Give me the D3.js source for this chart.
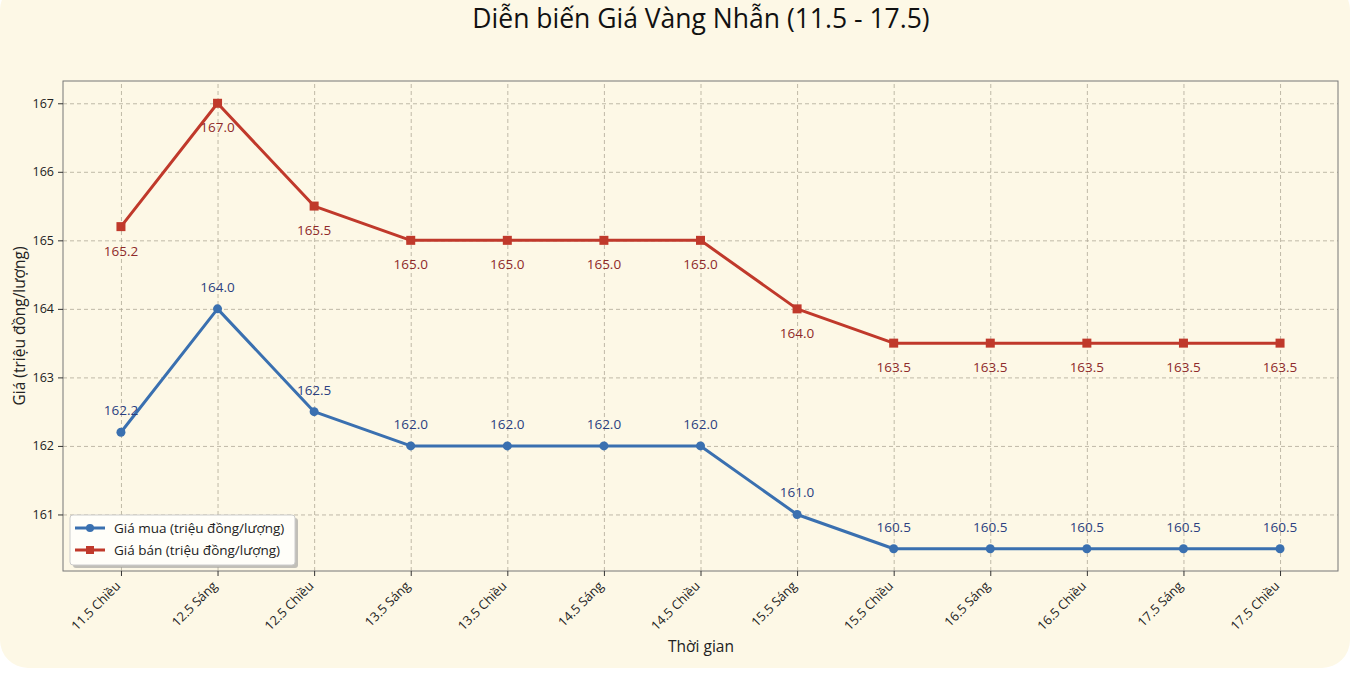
<!DOCTYPE html>
<html lang="vi">
<head>
<meta charset="utf-8">
<title>Giá Vàng Nhẫn</title>
<style>
  body { margin: 0; background: #ffffff; }
  .axis path, .axis line { stroke: #333; }
  .grid line { stroke: #b0aa98; stroke-dasharray: 4,3; stroke-width: 0.8; }
  .grid path { display: none; }
</style>
</head>
<body>
<script src="https://cdn.jsdelivr.net/npm/d3@7/dist/d3.min.js"></script>
<script>

var categories = ["11.5 Chiều", "12.5 Sáng", "12.5 Chiều", "13.5 Sáng", "13.5 Chiều", "14.5 Sáng",
  "14.5 Chiều", "15.5 Sáng", "15.5 Chiều", "16.5 Sáng", "16.5 Chiều", "17.5 Sáng", "17.5 Chiều"];
var buyPrices = [162.2, 164.0, 162.5, 162.0, 162.0, 162.0, 162.0, 161.0, 160.5, 160.5, 160.5, 160.5, 160.5];
var sellPrices = [165.2, 167.0, 165.5, 165.0, 165.0, 165.0, 165.0, 164.0, 163.5, 163.5, 163.5, 163.5, 163.5];
var yTicks = [161, 162, 163, 164, 165, 166, 167];
var seriesNames = ["Giá mua (triệu đồng/lượng)", "Giá bán (triệu đồng/lượng)"];

var w = 1354, h = 678;
var pLeft = 63, pRight = 1338, pTop = 81, pBottom = 571;
var font = "'Open Sans', 'Noto Sans', sans-serif";
var blue = "#3a70b0", red = "#c0392b";

var svg = d3.select("body").append("svg").attr("width", w).attr("height", h);

// card background
svg.append("rect").attr("x", 0).attr("y", -18).attr("width", 1350).attr("height", 686)
  .attr("rx", 28).attr("fill", "#fdf8e6");

// scales (matplotlib style 5% margins)
var ymin = d3.min(buyPrices), ymax = d3.max(sellPrices);
var pad = (ymax - ymin) * 0.05;
var y = d3.scaleLinear().domain([ymin - pad, ymax + pad]).range([pBottom, pTop]);
var x = d3.scalePoint().domain(categories).range([pLeft, pRight]).padding(0.6);

// grid
svg.append("g").attr("class", "grid").attr("transform", "translate(0," + pBottom + ")")
  .call(d3.axisBottom(x).tickSize(-(pBottom - pTop)).tickFormat(""));
svg.append("g").attr("class", "grid").attr("transform", "translate(" + pLeft + ",0)")
  .call(d3.axisLeft(y).tickValues(yTicks).tickSize(-(pRight - pLeft)).tickFormat(""));

// frame
svg.append("rect").attr("x", pLeft).attr("y", pTop).attr("width", pRight - pLeft).attr("height", pBottom - pTop)
  .attr("fill", "none").attr("stroke", "#777").attr("stroke-width", 1);

// axes
var xAxis = svg.append("g").attr("class", "axis").attr("transform", "translate(0," + pBottom + ")")
  .call(d3.axisBottom(x).tickSize(5));
xAxis.select(".domain").remove();
xAxis.selectAll("text").attr("font-family", font).attr("font-size", "12.8px").attr("fill", "#222")
  .attr("x", null).attr("y", null).attr("dy", "0.75em")
  .attr("text-anchor", "end").attr("transform", "translate(-7,9) rotate(-45)");

var yAxis = svg.append("g").attr("class", "axis").attr("transform", "translate(" + pLeft + ",0)")
  .call(d3.axisLeft(y).tickValues(yTicks).tickSize(5).tickPadding(4).tickFormat(d3.format("d")));
yAxis.select(".domain").remove();
yAxis.selectAll("text").attr("font-family", font).attr("font-size", "12.5px").attr("fill", "#222");

// titles
svg.append("text").attr("x", 701).attr("y", 28).attr("text-anchor", "middle")
  .attr("font-family", font).attr("font-size", "26.5px").attr("fill", "#111")
  .text("Diễn biến Giá Vàng Nhẫn (11.5 - 17.5)");
svg.append("text").attr("x", 701).attr("y", 652).attr("text-anchor", "middle")
  .attr("font-family", font).attr("font-size", "15.5px").attr("fill", "#222").text("Thời gian");
svg.append("text").attr("transform", "translate(25," + ((pTop + pBottom) / 2) + ") rotate(-90)")
  .attr("text-anchor", "middle").attr("font-family", font).attr("font-size", "15.5px").attr("fill", "#222")
  .text("Giá (triệu đồng/lượng)");

var line = d3.line().x(function(d, i) { return x(categories[i]); }).y(function(d) { return y(d); });

// buy series
svg.append("path").datum(buyPrices).attr("d", line).attr("fill", "none")
  .attr("stroke", blue).attr("stroke-width", 3).attr("stroke-linejoin", "round");
svg.selectAll(".buyPt").data(buyPrices).enter().append("circle")
  .attr("cx", function(d, i) { return x(categories[i]); }).attr("cy", function(d) { return y(d); })
  .attr("r", 4.5).attr("fill", blue);
svg.selectAll(".buyLbl").data(buyPrices).enter().append("text")
  .attr("x", function(d, i) { return x(categories[i]); }).attr("y", function(d) { return y(d) - 17; })
  .attr("text-anchor", "middle").attr("font-family", font).attr("font-size", "13.5px").attr("fill", "#2b3f80")
  .text(function(d) { return d.toFixed(1); });

// sell series
svg.append("path").datum(sellPrices).attr("d", line).attr("fill", "none")
  .attr("stroke", red).attr("stroke-width", 3).attr("stroke-linejoin", "round");
svg.selectAll(".sellPt").data(sellPrices).enter().append("rect")
  .attr("x", function(d, i) { return x(categories[i]) - 4.5; }).attr("y", function(d) { return y(d) - 4.5; })
  .attr("width", 9).attr("height", 9).attr("fill", red);
svg.selectAll(".sellLbl").data(sellPrices).enter().append("text")
  .attr("x", function(d, i) { return x(categories[i]); }).attr("y", function(d) { return y(d) + 29; })
  .attr("text-anchor", "middle").attr("font-family", font).attr("font-size", "13.5px").attr("fill", "#8e2a2a")
  .text(function(d) { return d.toFixed(1); });

// legend
var lg = svg.append("g").attr("transform", "translate(70,515)");
lg.append("rect").attr("x", 3).attr("y", 3).attr("width", 225).attr("height", 50).attr("rx", 3)
  .attr("fill", "#999").attr("opacity", 0.6);
lg.append("rect").attr("width", 225).attr("height", 50).attr("rx", 3)
  .attr("fill", "#fffef9").attr("stroke", "#ccc");
[blue, red].forEach(function(c, i) {
  var yy = 13 + i * 22;
  lg.append("line").attr("x1", 5).attr("x2", 35).attr("y1", yy).attr("y2", yy)
    .attr("stroke", c).attr("stroke-width", 3);
  if (i == 0) lg.append("circle").attr("cx", 20).attr("cy", yy).attr("r", 4).attr("fill", c);
  else lg.append("rect").attr("x", 16).attr("y", yy - 4).attr("width", 8).attr("height", 8).attr("fill", c);
  lg.append("text").attr("x", 44).attr("y", yy + 4.5).attr("font-family", font).attr("font-size", "13.5px")
    .attr("fill", "#222").text(seriesNames[i]);
});

</script>
</body>
</html>
